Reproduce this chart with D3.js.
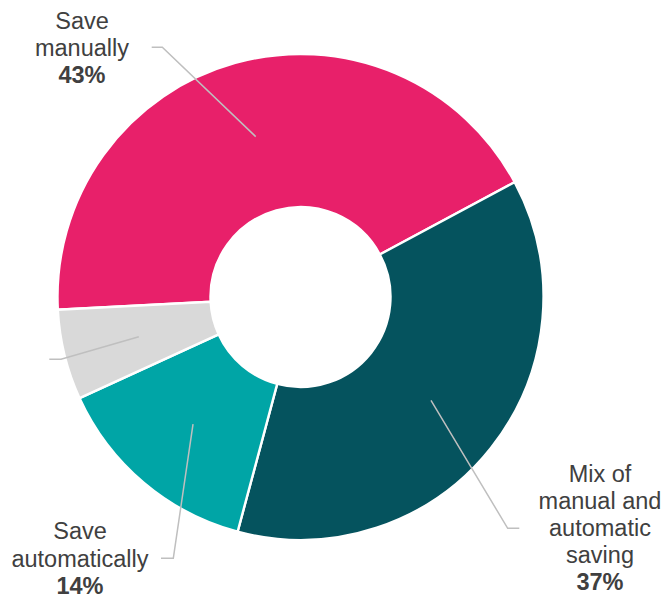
<!DOCTYPE html>
<html>
<head>
<meta charset="utf-8">
<script src="https://cdn.jsdelivr.net/npm/d3@7"></script>
<style>
  html, body { margin: 0; padding: 0; background: #ffffff; }
  svg { display: block; }
  text { font-family: "Liberation Sans", Arial, sans-serif; fill: #404040; }
</style>
</head>
<body>
<svg id="chart" width="664" height="598"></svg>
<script>
// Share of savers by saving method (percent)
const categories = ["Save manually", "Mix of manual and automatic saving", "Save automatically", "Other"];
const values = [43, 37, 14, 6];
const labelLines = [["Save", "manually"], ["Mix of", "manual and", "automatic", "saving"], ["Save", "automatically"], []];
const showValue = [true, true, true, false];
const colors = ["#E8206A", "#05535E", "#00A5A6", "#D9D9D9"];

// Layout: donut geometry and label placement
const width = 664, height = 598;
const cx = 300.5, cy = 297;
const outerR = 243, innerR = 90;
const startDeg = -93;
const labelLayout = [
  { tx: 82,  ty: 28.5, elbow: [162.3, 47.3],  end: [151.7, 47.3] },
  { tx: 600, ty: 481.5, elbow: [507.7, 528.3], end: [519.3, 528.3] },
  { tx: 80,  ty: 539.3, elbow: [173.3, 558.3], end: [161, 558.3] },
  { tx: null, ty: null, elbow: [61, 359.3],    end: [49.3, 359.3] }
];
const lineHeight = 27.2;

const svg = d3.select("#chart");
const data = categories.map((c, i) => ({ name: c, value: values[i], i }));

const start = startDeg * Math.PI / 180;
const pie = d3.pie().value(d => d.value).sort(null)
  .startAngle(start).endAngle(start + 2 * Math.PI);
const arcs = pie(data);

const arc = d3.arc().innerRadius(innerR).outerRadius(outerR);
const color = d3.scaleOrdinal().domain(categories).range(colors);

const g = svg.append("g").attr("transform", `translate(${cx},${cy})`);

g.selectAll("path.slice")
  .data(arcs)
  .join("path")
  .attr("class", "slice")
  .attr("d", arc)
  .attr("fill", d => color(d.data.name))
  .attr("stroke", "#ffffff")
  .attr("stroke-width", 2.4)
  .attr("stroke-linejoin", "miter");

// Leader lines from each slice centroid to its label
const leaders = svg.append("g");
arcs.forEach((a, i) => {
  const c = arc.centroid(a);
  const L = labelLayout[i];
  const pts = [[cx + c[0], cy + c[1]], L.elbow, L.end];
  leaders.append("path")
    .attr("d", d3.line()(pts))
    .attr("fill", "none")
    .attr("stroke", "#BFBFBF")
    .attr("stroke-width", 1.5);
});

// Labels: category lines plus bold percentage
const labels = svg.append("g");
arcs.forEach((a, i) => {
  const L = labelLayout[i];
  if (L.tx === null) return;
  const t = labels.append("text")
    .attr("x", L.tx)
    .attr("y", L.ty)
    .attr("text-anchor", "middle")
    .style("font-size", "23.5px");
  labelLines[i].forEach((line, k) => {
    t.append("tspan").attr("x", L.tx).attr("dy", k === 0 ? 0 : lineHeight).text(line);
  });
  if (showValue[i]) {
    t.append("tspan").attr("x", L.tx).attr("dy", lineHeight)
      .style("font-weight", "bold")
      .text(d3.format(".0f")(a.data.value) + "%");
  }
});
</script>
</body>
</html>
